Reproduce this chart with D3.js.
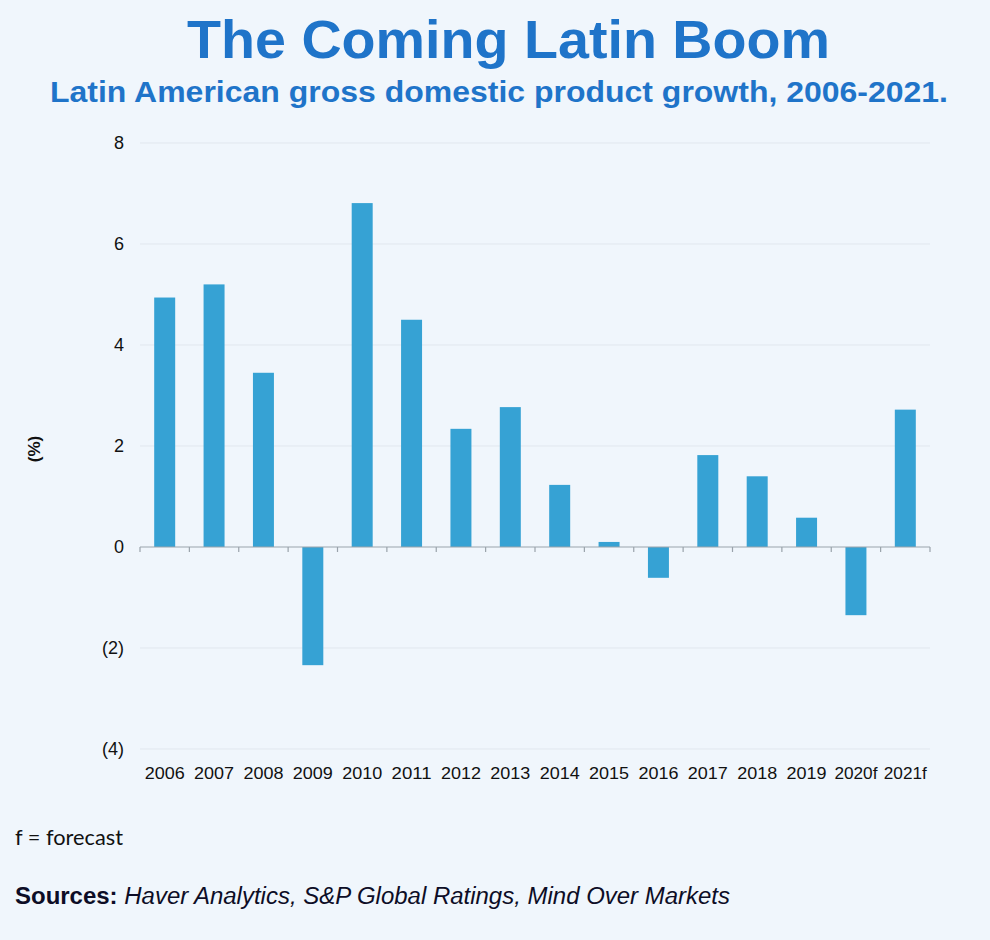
<!DOCTYPE html>
<html><head><meta charset="utf-8">
<script src="https://cdn.jsdelivr.net/npm/d3@7"></script>
<style>
html,body{margin:0;padding:0;background:#f0f6fc;}
svg{display:block;}
</style></head>
<body>
<svg id="chart" width="990" height="940"></svg>
<script>
const categories = ["2006","2007","2008","2009","2010","2011","2012","2013","2014","2015","2016","2017","2018","2019","2020f","2021f"];
const gdpGrowth = [4.94,5.2,3.45,-2.34,6.81,4.5,2.34,2.77,1.23,0.1,-0.61,1.82,1.4,0.58,-1.35,2.72];
const yTicks = [-4,-2,0,2,4,6,8];
const yTickLabels = ["(4)","(2)","0","2","4","6","8"];

const svg = d3.select("#chart");
svg.append("rect").attr("width",990).attr("height",940).attr("fill","#f0f6fc");

const plotLeft = 140, plotRight = 930, plotTop = 143, plotBottom = 749;
const x = d3.scaleBand().domain(categories).range([plotLeft,plotRight]).paddingInner(0.575).paddingOuter(0.2875);
const xb = d3.scaleBand().domain(categories).range([plotLeft,plotRight]);
const y = d3.scaleLinear().domain([-4,8]).range([plotBottom,plotTop]);

const sans = "'Liberation Sans', Arial, Helvetica, sans-serif";

// title
svg.append("text").attr("x",508.5).attr("y",58).attr("text-anchor","middle")
  .attr("font-family",sans).attr("font-weight","bold")
  .attr("font-size",54).attr("fill","#1f74c9")
  .attr("textLength",643).attr("lengthAdjust","spacingAndGlyphs")
  .text("The Coming Latin Boom");
svg.append("text").attr("x",499).attr("y",102).attr("text-anchor","middle")
  .attr("font-family",sans).attr("font-weight","bold")
  .attr("font-size",29).attr("fill","#1f74c9")
  .attr("textLength",898).attr("lengthAdjust","spacingAndGlyphs")
  .text("Latin American gross domestic product growth, 2006-2021.");

// gridlines
svg.append("g").selectAll("line").data(yTicks.filter(d=>d!==0)).join("line")
  .attr("x1",plotLeft).attr("x2",plotRight).attr("y1",d=>y(d)).attr("y2",d=>y(d))
  .attr("stroke","#e1e7ee").attr("stroke-width",1);

// y labels
svg.append("g").selectAll("text").data(yTicks).join("text")
  .attr("x",124).attr("y",d=>y(d)).attr("dy","0.35em").attr("text-anchor","end")
  .attr("font-family",sans).attr("font-size",18).attr("fill","#111")
  .text((d,i)=>yTickLabels[i]);

svg.append("text").attr("transform","translate(40,449) rotate(-90)").attr("text-anchor","middle")
  .attr("font-family",sans).attr("font-weight","bold").attr("font-size",17)
  .attr("fill","#111").text("(%)");

// bars
svg.append("g").selectAll("rect").data(gdpGrowth).join("rect")
  .attr("x",(d,i)=>x(categories[i]))
  .attr("width",x.bandwidth())
  .attr("y",d=>y(Math.max(0,d)))
  .attr("height",d=>Math.abs(y(d)-y(0)))
  .attr("fill","#36a2d4");

// zero axis with ticks
const ax = svg.append("g");
ax.append("line").attr("x1",plotLeft).attr("x2",plotRight).attr("y1",y(0)).attr("y2",y(0))
  .attr("stroke","#9aa3ab").attr("stroke-width",1.2);
const bounds = categories.map(c=>xb(c)).concat([plotRight]);
ax.selectAll("line.t").data(bounds).join("line").attr("class","t")
  .attr("x1",d=>d).attr("x2",d=>d).attr("y1",y(0)).attr("y2",y(0)+5)
  .attr("stroke","#9aa3ab").attr("stroke-width",1.2);

// x labels
svg.append("g").selectAll("text").data(categories).join("text")
  .attr("x",d=>xb(d)+xb.bandwidth()/2).attr("y",779).attr("text-anchor","middle")
  .attr("font-family",sans).attr("font-size",17).attr("fill","#111")
  .attr("textLength",d=>d.length===5?43:40).attr("lengthAdjust","spacingAndGlyphs")
  .text(d=>d);

// footnotes
svg.append("text").attr("x",15).attr("y",845)
  .attr("font-family","Lato, Carlito, sans-serif").attr("font-size",21).attr("fill","#111")
  .attr("textLength",108).attr("lengthAdjust","spacingAndGlyphs")
  .text("f = forecast");
const src = svg.append("text").attr("x",15).attr("y",904)
  .attr("font-family",sans).attr("font-size",23).attr("fill","#0d0d26")
  .attr("textLength",715).attr("lengthAdjust","spacingAndGlyphs");
src.append("tspan").attr("font-weight","bold").text("Sources: ");
src.append("tspan").attr("font-style","italic").text("Haver Analytics, S&P Global Ratings, Mind Over Markets");
</script>
</body></html>
